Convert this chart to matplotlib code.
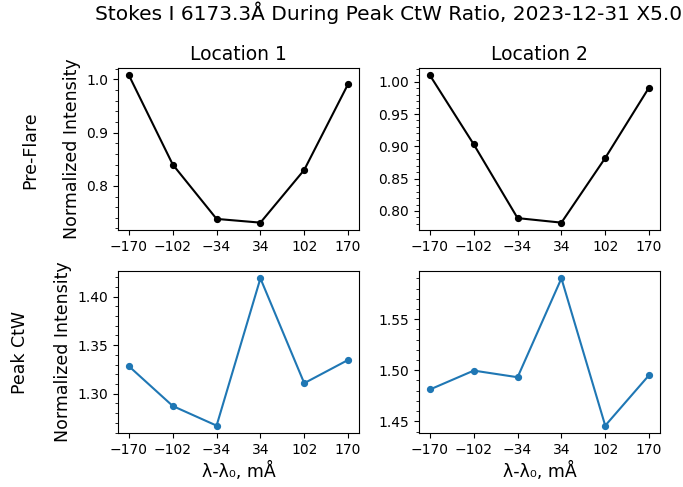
import matplotlib.pyplot as plt
from matplotlib.ticker import AutoMinorLocator, MultipleLocator

# wavelength offsets (mÅ)
offsets = [-170, -102, -34, 34, 102, 170]

# normalized Stokes I at each location
pre_loc1 = [1.0075, 0.840, 0.738, 0.731, 0.830, 0.991]
pre_loc2 = [1.0098, 0.903, 0.789, 0.782, 0.882, 0.991]
peak_loc1 = [1.3283, 1.2874, 1.2672, 1.4188, 1.3109, 1.3348]
peak_loc2 = [1.4812, 1.4997, 1.4932, 1.5900, 1.4458, 1.4952]

col_titles = ['Location 1', 'Location 2']
row_titles = ['Pre-Flare', 'Peak CtW']

fig = plt.figure(figsize=(6.83, 4.87), dpi=100)
w, h = 241 / 683, 162 / 487
lefts = [118 / 683, 419 / 683]
bottoms = [1 - 230 / 487, 1 - 433 / 487]

data = [[pre_loc1, pre_loc2], [peak_loc1, peak_loc2]]
colors = ['black', 'tab:blue']
major_step = [[0.1, 0.05], [0.05, 0.05]]

for r in range(2):
    for c in range(2):
        ax = fig.add_axes([lefts[c], bottoms[r], w, h])
        ax.plot(offsets, data[r][c], '-o', color=colors[r], ms=4.2, lw=1.5)
        ax.set_xticks(offsets)
        ax.yaxis.set_major_locator(MultipleLocator(major_step[r][c]))
        ax.yaxis.set_minor_locator(AutoMinorLocator(5))
        if r == 0:
            ax.set_title(col_titles[c], fontsize=13.5)
        else:
            ax.set_xlabel('λ-λ₀, mÅ', fontsize=12.5)
        if c == 0:
            ax.set_ylabel('Normalized Intensity', fontsize=12.5)

fig.text(30 / 683, 1 - 150 / 487, row_titles[0], rotation=90,
         ha='center', va='center', fontsize=12.5)
fig.text(20 / 683, 1 - 352 / 487, row_titles[1], rotation=90,
         ha='center', va='center', fontsize=12.5)

fig.suptitle('Stokes I 6173.3Å During Peak CtW Ratio, 2023-12-31 X5.0',
             x=389 / 683, y=0.997, fontsize=14.5)

fig.savefig('out.png', dpi=100)
